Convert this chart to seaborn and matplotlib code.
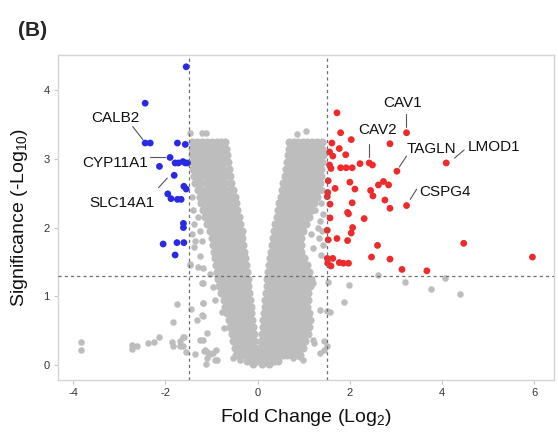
import matplotlib
matplotlib.use("Agg")
import matplotlib.pyplot as plt
import seaborn as sns
import pandas as pd

# ---------------- data ----------------
# upregulated (red) genes: fold change (log2), significance (-log10 p)
up_fc = [1.72, 1.80, 2.03, 1.61, 1.77, 1.56, 1.63, 1.91, 2.87, 3.23, 1.56, 1.59, 1.80, 1.92, 2.05,
         2.22, 2.42, 2.49, 3.02, 4.09, 1.53, 2.00, 2.62, 2.73, 2.84, 1.68, 2.11, 2.45, 2.50, 1.52,
         1.51, 2.76, 2.87, 3.23, 2.05, 1.57, 1.95, 1.97, 1.57, 2.31, 2.06, 2.03, 1.51, 1.53, 1.72,
         1.95, 2.60, 4.47, 2.47, 2.87, 5.96, 1.51, 1.63, 1.52, 1.59, 1.77, 1.86, 1.97, 3.13, 3.67]
up_sig = [3.67, 3.38, 3.28, 3.23, 3.15, 3.10, 3.04, 3.06, 3.22, 3.38, 2.91, 2.86, 2.87, 2.87, 2.87,
          2.93, 2.94, 2.91, 2.82, 2.94, 2.68, 2.66, 2.62, 2.67, 2.62, 2.57, 2.56, 2.54, 2.46, 2.51,
          2.45, 2.40, 2.28, 2.32, 2.36, 2.34, 2.22, 2.20, 2.14, 2.13, 2.00, 1.92, 1.96, 1.82, 1.84,
          1.81, 1.74, 1.77, 1.57, 1.54, 1.57, 1.55, 1.55, 1.48, 1.44, 1.49, 1.48, 1.48, 1.39, 1.37]

# downregulated (blue) genes
down_fc = [-1.55, -2.44, -2.44, -2.33, -1.74, -1.57, -1.90, -2.13, -1.79, -1.72, -1.62, -1.57,
           -1.52, -1.81, -1.60, -1.55, -1.95, -1.88, -1.74, -1.66, -1.61, -1.61, -2.05, -1.75,
           -1.60, -1.79]
down_sig = [4.34, 3.81, 3.23, 3.23, 3.23, 3.21, 3.02, 2.89, 2.94, 2.94, 2.96, 2.94,
            2.94, 2.76, 2.60, 2.56, 2.49, 2.42, 2.41, 2.41, 2.06, 2.00, 1.76, 1.78,
            1.78, 1.60]

# non-significant genes: dense core, rows of (significance, [fold changes])
ns_rows = [
    (3.25, [-1.43, -1.32, -1.21, -1.10, -0.99, -0.88, -0.79, -0.70, 0.69, 0.78, 0.88, 0.98, 1.08, 1.18, 1.28, 1.40]),
    (3.15, [-1.42, -1.37, -1.27, -1.16, -1.05, -0.94, -0.84, -0.75, -0.68, 0.67, 0.74, 0.84, 0.94, 1.04, 1.14, 1.24, 1.33, 1.40]),
    (3.05, [-1.42, -1.31, -1.20, -1.09, -0.98, -0.88, -0.77, -0.66, 0.65, 0.76, 0.87, 0.98, 1.09, 1.20, 1.31, 1.41]),
    (2.95, [-1.41, -1.35, -1.25, -1.14, -1.03, -0.92, -0.82, -0.72, -0.64, 0.63, 0.71, 0.81, 0.91, 1.01, 1.11, 1.21, 1.31, 1.40]),
    (2.85, [-1.40, -1.29, -1.18, -1.07, -0.96, -0.86, -0.75, -0.62, 0.61, 0.72, 0.83, 0.94, 1.05, 1.16, 1.27, 1.38]),
    (2.75, [-1.38, -1.31, -1.21, -1.11, -1.01, -0.91, -0.80, -0.69, -0.59, 0.59, 0.68, 0.78, 0.88, 0.98, 1.08, 1.18, 1.28, 1.38]),
    (2.65, [-1.35, -1.24, -1.13, -1.02, -0.92, -0.81, -0.70, -0.57, 0.56, 0.66, 0.76, 0.86, 0.96, 1.06, 1.16, 1.26, 1.36]),
    (2.55, [-1.30, -1.22, -1.12, -1.02, -0.92, -0.82, -0.72, -0.62, -0.54, 0.53, 0.62, 0.72, 0.82, 0.92, 1.02, 1.12, 1.22, 1.32]),
    (2.45, [-1.26, -1.16, -1.06, -0.96, -0.86, -0.76, -0.66, -0.57, -0.50, 0.50, 0.58, 0.68, 0.78, 0.88, 0.98, 1.08, 1.18, 1.28]),
    (2.35, [-1.22, -1.12, -1.02, -0.92, -0.82, -0.72, -0.62, -0.53, -0.47, 0.47, 0.55, 0.65, 0.75, 0.85, 0.95, 1.05, 1.15, 1.23]),
    (2.25, [-1.18, -1.08, -0.98, -0.88, -0.78, -0.68, -0.58, -0.50, -0.44, 0.44, 0.52, 0.62, 0.72, 0.82, 0.92, 1.02, 1.11, 1.17]),
    (2.15, [-1.14, -1.04, -0.94, -0.84, -0.74, -0.64, -0.54, -0.47, -0.41, 0.41, 0.48, 0.58, 0.68, 0.78, 0.88, 0.98, 1.06, 1.11]),
    (2.05, [-1.09, -0.99, -0.89, -0.79, -0.69, -0.59, -0.49, -0.38, 0.38, 0.47, 0.57, 0.67, 0.77, 0.87, 0.97, 1.05]),
    (1.95, [-1.04, -0.94, -0.84, -0.74, -0.64, -0.54, -0.44, -0.35, 0.35, 0.44, 0.54, 0.64, 0.74, 0.84, 0.93, 0.99]),
    (1.85, [-1.00, -0.90, -0.80, -0.70, -0.60, -0.50, -0.41, -0.33, 0.33, 0.41, 0.51, 0.61, 0.71, 0.81, 0.90, 0.95]),
    (1.75, [-0.97, -0.87, -0.77, -0.67, -0.57, -0.47, -0.38, -0.31, 0.31, 0.39, 0.49, 0.59, 0.69, 0.79, 0.88, 0.93]),
    (1.65, [-0.95, -0.85, -0.75, -0.65, -0.55, -0.45, -0.36, -0.29, 0.29, 0.37, 0.47, 0.57, 0.67, 0.77, 0.87, 0.95]),
    (1.55, [-0.93, -0.83, -0.73, -0.63, -0.53, -0.43, -0.34, -0.27, 0.27, 0.35, 0.45, 0.55, 0.65, 0.75, 0.85, 0.95, 1.00]),
    (1.45, [-0.91, -0.81, -0.71, -0.61, -0.51, -0.41, -0.32, -0.25, 0.25, 0.33, 0.43, 0.53, 0.63, 0.73, 0.83, 0.93, 1.03, 1.06]),
    (1.35, [-0.89, -0.79, -0.69, -0.59, -0.49, -0.39, -0.30, -0.23, 0.23, 0.31, 0.41, 0.51, 0.61, 0.71, 0.81, 0.91, 1.01, 1.11]),
    (1.25, [-0.87, -0.77, -0.67, -0.57, -0.47, -0.37, -0.28, -0.21, 0.21, 0.29, 0.39, 0.49, 0.59, 0.69, 0.79, 0.89, 0.99, 1.08, 1.15]),
    (1.15, [-0.83, -0.73, -0.63, -0.53, -0.43, -0.33, -0.26, -0.20, 0.20, 0.27, 0.37, 0.47, 0.57, 0.67, 0.77, 0.87, 0.97, 1.06, 1.13]),
    (1.05, [-0.79, -0.69, -0.59, -0.49, -0.39, -0.30, -0.23, -0.18, 0.18, 0.25, 0.35, 0.45, 0.55, 0.65, 0.75, 0.85, 0.94, 1.03, 1.10]),
    (0.95, [-0.74, -0.64, -0.54, -0.44, -0.34, -0.26, -0.17, 0.17, 0.24, 0.34, 0.44, 0.54, 0.64, 0.74, 0.84, 0.93, 1.02, 1.10]),
    (0.85, [-0.70, -0.60, -0.50, -0.40, -0.31, -0.23, -0.15, 0.15, 0.22, 0.32, 0.42, 0.52, 0.62, 0.72, 0.81, 0.90, 0.99, 1.07]),
    (0.75, [-0.66, -0.56, -0.46, -0.36, -0.27, -0.20, -0.14, 0.14, 0.20, 0.30, 0.40, 0.50, 0.60, 0.70, 0.79, 0.88, 0.97, 1.05, 1.12]),
    (0.65, [-0.62, -0.52, -0.42, -0.33, -0.25, -0.18, -0.12, 0.12, 0.18, 0.28, 0.38, 0.48, 0.58, 0.68, 0.78, 0.88, 0.97, 1.06, 1.13]),
    (0.55, [-0.59, -0.49, -0.39, -0.30, -0.22, -0.16, -0.11, 0.11, 0.16, 0.26, 0.36, 0.46, 0.56, 0.66, 0.76, 0.86, 0.95, 1.04, 1.12]),
    (0.45, [-0.56, -0.46, -0.36, -0.27, -0.19, -0.13, -0.09, 0.09, 0.14, 0.24, 0.34, 0.44, 0.54, 0.64, 0.74, 0.84, 0.93, 1.02, 1.09]),
    (0.35, [-0.53, -0.43, -0.33, -0.24, -0.16, -0.07, 0.07, 0.16, 0.26, 0.36, 0.46, 0.56, 0.66, 0.76, 0.86, 0.95, 1.03]),
    (0.25, [-0.50, -0.40, -0.30, -0.20, -0.10, 0.00, 0.10, 0.20, 0.30, 0.40, 0.50, 0.60, 0.70, 0.80, 0.90, 0.98]),
    (0.15, [-0.46, -0.36, -0.26, -0.16, -0.06, 0.04, 0.14, 0.24, 0.34, 0.44, 0.54, 0.64, 0.74, 0.84, 0.92]),
    (0.05, [-0.24, -0.14, -0.04, 0.06, 0.16, 0.26, 0.36, 0.44]),
    (0.01, [-0.10, 0.10, 0.25]),
]

# non-significant genes: scattered points
ns_fc = [-1.47, -1.21, -1.12, 0.85, 1.05,
         -1.42, -1.40, -1.38, -1.42, -1.35, -1.30, -1.25, -1.20,
         1.40, 1.38, 1.42, 1.36, 1.40, 1.33, 1.42, 1.38, 1.30, 1.25, 1.20, 1.15,
         -3.84, -3.84, -2.73, -2.61, -2.73, -2.37, -2.25, -2.14, -1.86, -1.83, -1.68, -1.68, -1.60, -1.55,
         -1.84, -1.75, -1.44, -1.19, -1.19, -1.32, -1.10, -1.19, -1.36, -1.16, -1.10, -1.03, -0.90, -0.89, -1.12,
         -1.47, -1.29, -1.18, -0.92, -0.78, -0.74, -0.53,
         -1.39, -1.25, -1.47, -1.18, -1.03, -1.21, -0.96, -1.18, -1.21, -1.25, -1.14, -0.96, -0.92, -1.10,
         -1.61, -1.61, -0.60, -0.38,
         1.35, 1.50, 1.50, 1.21, 1.35, 1.21, 1.06,
         1.53, 1.56, 1.22, 1.43, 1.44, 0.77, 0.92, 0.99,
         2.62, 1.99, 3.20, 4.07, 3.76, 4.38, 1.87]
ns_sig = [3.38, 3.38, 3.37, 3.36, 3.41,
          2.45, 2.25, 2.05, 1.90, 1.80, 2.15, 1.95, 1.80,
          2.55, 2.35, 2.20, 2.10, 1.95, 1.85, 1.75, 1.60, 2.00, 2.25, 1.70, 1.90,
          0.33, 0.22, 0.29, 0.28, 0.23, 0.32, 0.34, 0.40, 0.34, 0.28, 0.27, 0.35, 0.41, 0.19,
          0.62, 0.89, 0.82, 0.90, 0.71, 0.65, 0.47, 0.36, 0.16, 0.20, 0.19, 0.16, 0.21, 0.07, 0.02,
          1.47, 1.43, 1.19, 0.95, 0.77, 0.53, 0.10,
          1.72, 1.58, 1.45, 1.41, 1.33, 1.19, 1.14, 0.90, 0.73, 0.36, 0.22, 0.17, 0.07, 0.10,
          0.41, 0.27, 0.53, 0.07,
          0.80, 0.78, 0.27, 0.36, 0.17, 1.19, 0.99,
          1.20, 0.77, 0.32, 0.35, 0.21, 0.10, 0.12, 0.07,
          1.31, 1.17, 1.20, 1.27, 1.10, 1.03, 0.91]

# labelled genes: name, text position, leader line
label_names = ["CALB2", "CYP11A1", "SLC14A1", "CAV1", "CAV2", "TAGLN", "LMOD1", "CSPG4"]
label_text_xy = [(-3.09, 3.59), (-3.09, 2.94), (-2.95, 2.36), (3.15, 3.81), (2.60, 3.42),
                 (3.78, 3.14), (5.13, 3.17), (4.07, 2.52)]
label_line = [((-2.71, 3.47), (-2.49, 3.28)), ((-2.33, 3.03), (-2.01, 3.03)),
              ((-2.15, 2.58), (-1.96, 2.72)), ((3.21, 3.65), (3.21, 3.46)),
              ((2.42, 3.22), (2.42, 3.02)), ((3.23, 3.04), (3.07, 2.88)),
              ((4.48, 3.13), (4.27, 3.01)), ((3.45, 2.56), (3.31, 2.41))]

fc_cut = 1.5
sig_cut = 1.3
x_ticks = [-4, -2, 0, 2, 4, 6]
y_ticks = [0, 1, 2, 3, 4]

# ---------------- build tables ----------------
core_x, core_y = [], []
for yv, xs in ns_rows:
    for xv in xs:
        core_x.append(xv)
        core_y.append(yv)
core_df = pd.DataFrame({"fc": core_x, "sig": core_y})
ns_df = pd.DataFrame({"fc": ns_fc, "sig": ns_sig})
sig_df = pd.concat([
    pd.DataFrame({"fc": down_fc, "sig": down_sig, "group": "down"}),
    pd.DataFrame({"fc": up_fc, "sig": up_sig, "group": "up"}),
], ignore_index=True)

# ---------------- style ----------------
sns.set_style("white")
plt.rcParams["font.family"] = ["Liberation Sans", "DejaVu Sans"]
plt.rcParams["mathtext.fontset"] = "custom"
plt.rcParams["mathtext.rm"] = "Liberation Sans"
plt.rcParams["mathtext.it"] = "Liberation Sans:italic"

GREY = "#bdbdbd"
palette = {"down": "#2a2ae6", "up": "#ee2a2a"}

fig = plt.figure(figsize=(5.58, 4.34), dpi=100)
ax = fig.add_axes([0.104, 0.1244, 0.889, 0.7486])

sns.scatterplot(data=core_df, x="fc", y="sig", color=GREY, s=34, linewidth=0, ax=ax, zorder=2)
sns.scatterplot(data=ns_df, x="fc", y="sig", color=GREY, s=22, linewidth=0, ax=ax, zorder=2)
sns.scatterplot(data=sig_df, x="fc", y="sig", hue="group", palette=palette, s=24,
                linewidth=0, ax=ax, legend=False, zorder=3)

ax.axvline(-fc_cut, color="#6e6e6e", lw=0.9, ls=(0, (2.5, 2.5)), zorder=4)
ax.axvline(fc_cut, color="#6e6e6e", lw=0.9, ls=(0, (2.5, 2.5)), zorder=4)
ax.axhline(sig_cut, color="#6e6e6e", lw=0.9, ls=(0, (2.5, 2.5)), zorder=4)

for name, (tx, ty), ((x0, y0), (x1, y1)) in zip(label_names, label_text_xy, label_line):
    ax.text(tx, ty, name, ha="center", va="center", fontsize=11, color="#111111", zorder=5)
    ax.plot([x0, x1], [y0, y1], color="#555555", lw=0.8, zorder=5)

ax.set_xlim(-4.33, 6.43)
ax.set_ylim(-0.22, 4.51)
ax.set_xticks(x_ticks)
ax.set_yticks(y_ticks)
ax.set_xticklabels([str(t) for t in x_ticks])
ax.set_yticklabels([str(t) for t in y_ticks])
ax.tick_params(axis="both", which="major", labelsize=8, labelcolor="#333333",
               color="#c8c8c8", length=3, width=0.8, pad=3, direction="out")
ax.tick_params(axis="x", bottom=True)
ax.tick_params(axis="y", left=True)
for sp in ax.spines.values():
    sp.set_color("#d4d4d4")
    sp.set_linewidth(1.0)

ax.set_xlabel("Fold Change (Log$_2$)", fontsize=14, color="#111111", labelpad=6)
ax.set_ylabel("Significance (-Log$_{10}$)", fontsize=14, color="#111111", labelpad=10)

fig.text(0.032, 0.929, "(B)", fontsize=15, fontweight="bold", ha="left", va="center")

fig.savefig("out.png", dpi=100)
